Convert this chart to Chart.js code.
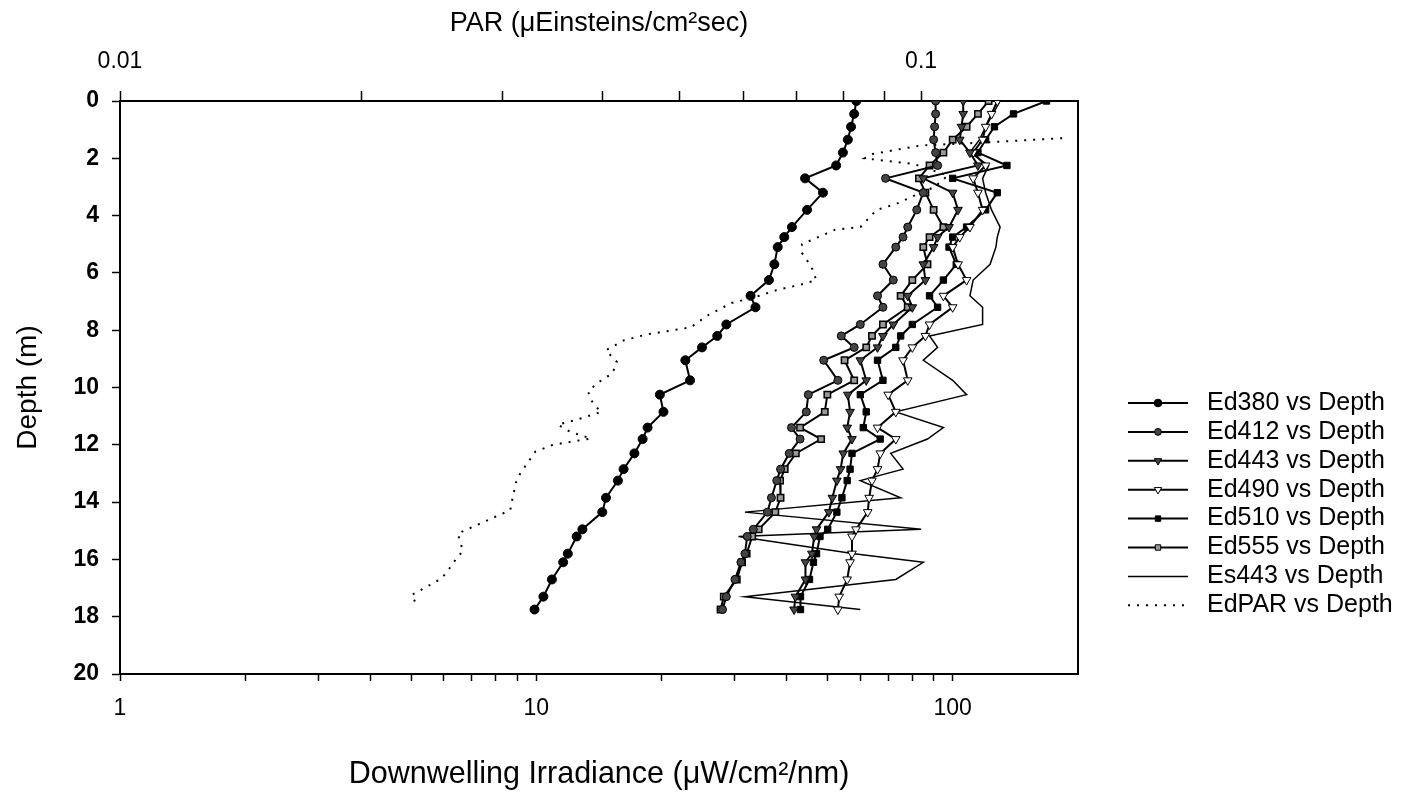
<!DOCTYPE html>
<html>
<head>
<meta charset="utf-8">
<script src="https://cdn.jsdelivr.net/npm/chart.js@4.4.1/dist/chart.umd.min.js"></script>
<style>
  html, body { margin: 0; padding: 0; background: #fff; }
  #wrap { width: 1409px; height: 793px; }
</style>
</head>
<body>
<div id="wrap"><canvas id="irr-chart" width="1409" height="793"></canvas></div>
<script>
// depth of each Ed / Es sample (m)
const depths = [0, 0.45, 0.9, 1.35, 1.8, 2.25, 2.7, 3.2, 3.8, 4.4, 4.75, 5.1, 5.7, 6.25, 6.8, 7.2, 7.8, 8.2, 8.6, 9.05,
  9.75, 10.25, 10.85, 11.4, 11.8, 12.3, 12.85, 13.25, 13.85, 14.35, 14.95, 15.2, 15.8, 16.1, 16.7, 17.3, 17.75];

// downwelling irradiance, uW/cm2/nm
const ed380 = [58.7, 58.0, 57.0, 56.0, 54.5, 52.5, 44.2, 48.8, 44.7, 41.1, 39.4, 38.0, 37.3, 36.2, 32.7, 33.6, 28.6, 27.2, 25.0, 22.8,
  23.4, 19.8, 20.2, 18.5, 18.0, 17.2, 16.2, 15.7, 14.7, 14.4, 12.9, 12.5, 11.9, 11.6, 10.9, 10.4, 9.9];
const ed412 = [91, 91, 90.5, 90, 91, 92, 69, 85, 82, 78, 76, 73, 68, 72, 66, 68, 60, 54, 58, 49,
  53, 45, 44.5, 41, 43, 40.5, 38.6, 37.8, 36.7, 35.9, 33.2, 32.1, 31.7, 31, 30, 28.6, 28];
const ed443 = [106, 106, 105, 104, 110, 115, 85, 100, 103, 98, 92, 90, 85, 86, 78, 80, 72, 68, 66, 60,
  62, 56, 56.7, 55.8, 57.3, 54.6, 53.8, 52.7, 51.4, 50.4, 47.1, 46.5, 45.9, 44.3, 44.3, 41.9, 41.6];
const ed490 = [128, 124, 120, 118, 112, 120, 112, 115, 118, 110, 104, 100, 103, 108, 95, 100, 88, 86, 80, 76,
  78, 70, 73, 66, 73, 67, 66, 64, 63, 62.5, 58.6, 57.3, 57.3, 56.7, 55.8, 53.4, 53];
const ed510 = [168, 140, 126, 120, 115, 135, 100, 128, 120, 108, 100, 98, 102, 95, 88, 92, 80, 75, 73, 66,
  68, 60, 62, 61, 67, 57.3, 56.7, 55.8, 54.2, 52.7, 50.1, 48, 47.1, 46.3, 45.3, 43.1, 43.1];
const ed555 = [122, 115, 108, 100, 95, 88, 83, 86, 90, 95, 88, 85, 87, 80, 75, 78, 68, 64, 62, 55,
  58, 50, 49.3, 43, 48.3, 42, 39.5, 38.5, 38.6, 37.5, 34.2, 33, 32, 31.2, 30.3, 28.2, 27.7];
const es443 = [130, 125, 120, 116, 110, 122, 118, 120, 124, 130, 128, 127, 123, 112, 110, 118, 118, 88, 92, 85,
  100, 108, 73, 95, 87, 71, 76, 60, 75, 31.7, 84, 30.6, 58, 85, 73, 31.7, 60];

// PAR profile (uEinsteins/cm2/sec) on its own depths
const parDepths = [1.3, 1.45, 1.55, 1.85, 2.0, 2.2, 2.6, 3.0, 3.25, 3.6, 3.8, 4.4, 4.5, 5.0, 5.3, 5.8, 6.25, 6.4, 6.6, 6.85,
  7.05, 7.5, 7.9, 8.15, 8.35, 8.7, 9.1, 9.5, 9.85, 10.15, 10.6, 10.85, 11.1, 11.3, 11.55, 11.78, 12.0, 12.24, 12.83, 13.18,
  13.87, 14.28, 14.46, 15.1, 15.7, 15.97, 16.3, 16.67, 17.25, 17.6];
const edPAR = [0.150, 0.12, 0.10, 0.087, 0.085, 0.098, 0.108, 0.104, 0.099, 0.093, 0.088, 0.084, 0.078, 0.071, 0.071, 0.073, 0.074, 0.071, 0.066, 0.062,
  0.058, 0.054, 0.0516, 0.0454, 0.0426, 0.0404, 0.0417, 0.0412, 0.0394, 0.0384, 0.039, 0.0399, 0.0374, 0.0352, 0.0365, 0.0387, 0.0347, 0.033, 0.0319, 0.0313,
  0.0309, 0.0307, 0.0297, 0.0264, 0.0268, 0.0263, 0.0258, 0.0252, 0.0231, 0.0235];

// ticks
const irrTicks = [1, 2, 3, 4, 5, 6, 7, 8, 9, 10, 20, 30, 40, 50, 60, 70, 80, 90, 100];
const irrLabels = [1, 10, 100];
const parTicks = [0.01, 0.02, 0.03, 0.04, 0.05, 0.06, 0.07, 0.08, 0.09, 0.1];
const parLabels = [0.01, 0.1];

const FONT = "'Liberation Sans', Arial, sans-serif";
Chart.defaults.font.family = FONT;
Chart.defaults.color = '#000';

const toPoints = (vals, ys) => vals.map((v, i) => ({ x: v, y: ys[i] }));

const edSeries = (label, vals, style) => Object.assign({
  label: label,
  data: toPoints(vals, depths),
  showLine: true,
  borderColor: '#000',
  borderWidth: 2,
  pointBorderColor: '#000',
  pointBorderWidth: 1,
  pointRadius: 4.5
}, style);

const datasets = [
  edSeries('Ed380 vs Depth', ed380, { pointStyle: 'circle', pointBackgroundColor: '#000' }),
  edSeries('Ed412 vs Depth', ed412, { pointStyle: 'circle', pointBackgroundColor: '#444', pointRadius: 4 }),
  edSeries('Ed443 vs Depth', ed443, { pointStyle: 'triangle', pointRotation: 180, pointBackgroundColor: '#444', pointRadius: 5 }),
  edSeries('Ed490 vs Depth', ed490, { pointStyle: 'triangle', pointRotation: 180, pointBackgroundColor: '#fff', pointRadius: 5 }),
  edSeries('Ed510 vs Depth', ed510, { pointStyle: 'rect', pointBackgroundColor: '#000' }),
  edSeries('Ed555 vs Depth', ed555, { pointStyle: 'rect', pointBackgroundColor: '#999', pointBorderWidth: 1.5 }),
  edSeries('Es443 vs Depth', es443, { borderWidth: 1.5, pointRadius: 0 }),
  {
    label: 'EdPAR vs Depth',
    data: toPoints(edPAR, parDepths),
    xAxisID: 'x2',
    showLine: true,
    borderColor: '#000',
    borderWidth: 2,
    borderDash: [2, 7],
    pointRadius: 0
  }
];

// right edge of the plot box
const frame = {
  id: 'frame',
  afterDatasetsDraw(chart) {
    const { ctx, chartArea } = chart;
    ctx.save();
    ctx.strokeStyle = '#000';
    ctx.lineWidth = 2;
    ctx.beginPath();
    ctx.moveTo(chartArea.right, chartArea.top);
    ctx.lineTo(chartArea.right, chartArea.bottom);
    ctx.stroke();
    ctx.restore();
  }
};

// legend at the right, line sample + marker + text
const sideLegend = {
  id: 'sideLegend',
  afterDraw(chart) {
    const ctx = chart.ctx;
    chart.data.datasets.forEach((ds, i) => {
      const y = 403 + i * 28.9;
      ctx.save();
      ctx.strokeStyle = '#000';
      ctx.lineWidth = ds.borderWidth;
      ctx.setLineDash(ds.borderDash || []);
      ctx.beginPath();
      ctx.moveTo(1128, y);
      ctx.lineTo(1188, y);
      ctx.stroke();
      ctx.setLineDash([]);
      if (ds.pointRadius) {
        ctx.fillStyle = ds.pointBackgroundColor;
        ctx.lineWidth = 1;
        Chart.helpers.drawPoint(ctx, {
          pointStyle: ds.pointStyle,
          rotation: ds.pointRotation || 0,
          radius: ds.pointRadius * 0.85,
          borderWidth: 1
        }, 1158, y);
      }
      ctx.fillStyle = '#000';
      ctx.font = '25px ' + FONT;
      ctx.textBaseline = 'middle';
      ctx.fillText(ds.label, 1207, y);
      ctx.restore();
    });
  }
};

new Chart(document.getElementById('irr-chart'), {
  type: 'scatter',
  data: { datasets: datasets },
  options: {
    responsive: false,
    animation: false,
    layout: { padding: { left: 0, right: 331, top: 0, bottom: 0 } },
    plugins: { legend: { display: false }, tooltip: { enabled: false } },
    scales: {
      x: {
        type: 'logarithmic',
        position: 'bottom',
        min: 1,
        max: 200,
        afterBuildTicks: s => { s.ticks = irrTicks.map(v => ({ value: v })); },
        afterFit: s => { s.height = 119; },
        ticks: {
          autoSkip: false,
          maxRotation: 0,
          padding: 14,
          font: { size: 23 },
          callback: v => irrLabels.includes(v) ? String(v) : ''
        },
        grid: { drawOnChartArea: false, tickLength: 7, tickWidth: 1.5, tickColor: '#000' },
        border: { color: '#000', width: 2 },
        title: { display: true, text: 'Downwelling Irradiance (μW/cm²/nm)', font: { size: 30.5 }, padding: { top: 0, bottom: 0 } }
      },
      x2: {
        type: 'logarithmic',
        position: 'top',
        min: 0.01,
        max: 0.157,
        afterBuildTicks: s => { s.ticks = parTicks.map(v => ({ value: v })); },
        afterFit: s => { s.height = 101; },
        ticks: {
          autoSkip: false,
          maxRotation: 0,
          padding: 16,
          font: { size: 23 },
          callback: v => parLabels.includes(v) ? String(v) : ''
        },
        grid: { drawOnChartArea: false, tickLength: 10, tickWidth: 1.5, tickColor: '#000' },
        border: { color: '#000', width: 2 },
        title: { display: true, text: 'PAR (μEinsteins/cm²sec)', font: { size: 27 }, padding: { top: 7, bottom: 0 } }
      },
      y: {
        type: 'linear',
        reverse: true,
        min: 0,
        max: 20,
        afterFit: s => { s.width = 120; },
        ticks: { stepSize: 2, padding: 13, font: { size: 23, weight: 'bold' } },
        grid: { drawOnChartArea: false, tickLength: 8, tickWidth: 1.5, tickColor: '#000' },
        border: { color: '#000', width: 2 },
        title: { display: true, text: 'Depth (m)', font: { size: 28 }, padding: { top: 11, bottom: 0 } }
      }
    }
  },
  plugins: [frame, sideLegend]
});
</script>
</body>
</html>
